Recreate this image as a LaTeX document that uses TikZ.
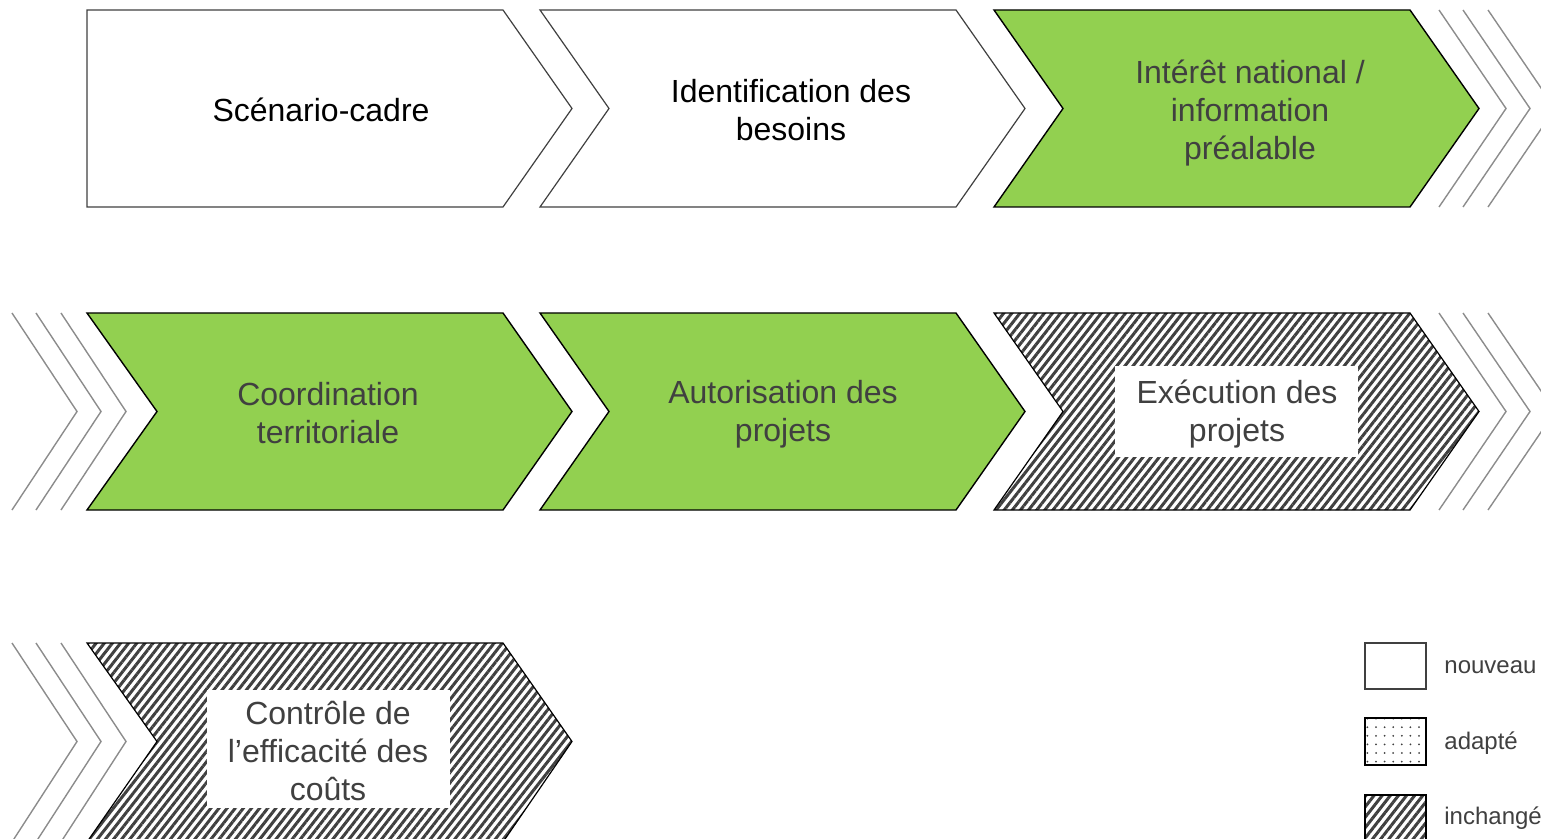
\documentclass[tikz,border=0pt]{standalone}
\usepackage{fontspec}
\setmainfont{Liberation Sans}
\usetikzlibrary{patterns.meta}
\definecolor{vertclair}{HTML}{92D050}
\definecolor{gris}{HTML}{404040}
\definecolor{grisclair}{HTML}{8C8C8C}
\tikzset{
  etapeneuve/.style={draw=gris, line width=.6pt, fill=white},
  etapeverte/.style={draw=black, line width=.7pt, fill=vertclair},
  etapehachee/.style={draw=black, line width=.6pt,
    pattern={Lines[angle=52, distance=3.2pt, line width=1.5pt]}, pattern color=gris},
  etapepointee/.style={draw=black, line width=.9pt,
    pattern={Dots[distance=4.3pt, radius=.5pt]}, pattern color=gris},
  suite/.style={draw=grisclair, line width=.7pt},
  texte/.style={align=center, font=\fontsize{16}{19}\selectfont, inner sep=0pt},
  legende/.style={anchor=west, text=gris, font=\fontsize{12}{14}\selectfont, inner sep=0pt}
}
\begin{document}
\begin{tikzpicture}[x=0.5pt, y=-0.5pt]
    \useasboundingbox (0, 0) rectangle (1541, 839) ;
    \begin{scope}
      % premiere ligne
      \draw[etapeneuve] (87, 10) -- (503, 10) -- (572, 108.5) -- (503, 207) -- (87, 207) -- cycle ;
      \draw[etapeneuve] (540, 10) -- (956, 10) -- (1025, 108.5) -- (956, 207) -- (540, 207) -- (609, 108.5) -- cycle ;
      \draw[etapeverte] (994, 10) -- (1410, 10) -- (1479, 108.5) -- (1410, 207) -- (994, 207) -- (1063, 108.5) -- cycle ;
      \foreach \x in {1439, 1463, 1488}
        \draw[suite] (\x, 10) -- (\x + 67, 108.5) -- (\x, 207) ;
      \node[texte] (scenario) at (321, 110) {Scénario-cadre} ;
      \node[texte] (besoins) at (791, 110) {Identification des\\besoins} ;
      \node[texte, text=gris] (interet) at (1250, 113) {Intérêt national /\\information\\préalable} ;
      % deuxieme ligne
      \foreach \x in {12, 36, 61}
        \draw[suite] (\x, 313) -- (\x + 65, 411.5) -- (\x, 510) ;
      \draw[etapeverte] (87, 313) -- (503, 313) -- (572, 411.5) -- (503, 510) -- (87, 510) -- (157, 411.5) -- cycle ;
      \draw[etapeverte] (540, 313) -- (956, 313) -- (1025, 411.5) -- (956, 510) -- (540, 510) -- (609, 411.5) -- cycle ;
      \draw[etapehachee] (994, 313) -- (1410, 313) -- (1479, 411.5) -- (1410, 510) -- (994, 510) -- (1063, 411.5) -- cycle ;
      \foreach \x in {1439, 1463, 1488}
        \draw[suite] (\x, 313) -- (\x + 67, 411.5) -- (\x, 510) ;
      \node[texte, text=gris] (coordination) at (328, 413) {Coordination\\territoriale} ;
      \node[texte, text=gris] (autorisation) at (783, 414) {Autorisation des\\projets} ;
      \node[fill=white, minimum width=121.5pt, minimum height=45.5pt] (fondexec) at (1236.5, 411.5) {} ;
      \node[texte, text=gris] (execution) at (1237, 414) {Exécution des\\projets} ;
      % troisieme ligne
      \foreach \x in {12, 36, 61}
        \draw[suite] (\x, 643) -- (\x + 65, 741.5) -- (\x, 842) ;
      \draw[etapehachee] (87, 643) -- (503, 643) -- (572, 741.5) -- (503, 842) -- (87, 842) -- (157, 741.5) -- cycle ;
      \node[fill=white, minimum width=121.5pt, minimum height=59pt] (fondcontrole) at (328.5, 749) {} ;
      \node[texte, text=gris] (controle) at (328, 751) {Contrôle de\\l’efficacité des\\coûts} ;
      % legende
      \draw[draw=gris, line width=.6pt] (1365, 643) rectangle (1426, 689) ;
      \draw[etapepointee] (1365, 718) rectangle (1426, 765) ;
      \draw[etapehachee] (1365, 795) rectangle (1426, 845) ;
      \node[legende] (nouveau) at (1444, 667) {nouveau} ;
      \node[legende] (adapte) at (1444, 743) {adapté} ;
      \node[legende] (inchange) at (1444, 818) {inchangé} ;
    \end{scope}
  \end{tikzpicture}
\end{document}
